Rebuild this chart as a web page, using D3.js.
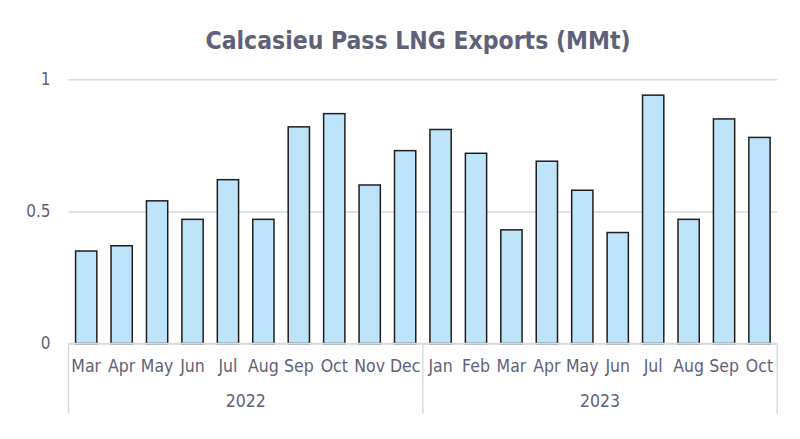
<!DOCTYPE html>
<html>
<head>
<meta charset="utf-8">
<script src="https://cdn.jsdelivr.net/npm/d3@7"></script>
<style>
  body { margin: 0; background: #fff; }
  svg text { font-family: "DejaVu Sans Condensed", "DejaVu Sans", sans-serif; }
</style>
</head>
<body>
<svg id="chart" width="800" height="439"></svg>
<script>
// data
const months = ["Mar","Apr","May","Jun","Jul","Aug","Sep","Oct","Nov","Dec",
                "Jan","Feb","Mar","Apr","May","Jun","Jul","Aug","Sep","Oct"]
const years = ["2022","2022","2022","2022","2022","2022","2022","2022","2022","2022",
               "2023","2023","2023","2023","2023","2023","2023","2023","2023","2023"]
const exports = [0.35,0.37,0.54,0.47,0.62,0.47,0.82,0.87,0.60,0.73,
                 0.81,0.72,0.43,0.69,0.58,0.42,0.94,0.47,0.85,0.78]
const yTicks = [0, 0.5, 1]
const yearGroups = ["2022","2023"]

const svg = d3.select("#chart")
const margin = {top: 79.3, right: 22.8, bottom: 95.5, left: 68.5}
const width = 800 - margin.left - margin.right
const height = 439 - margin.top - margin.bottom
const textColor = "#5f6179"
const gridColor = "#d9d9de"

const keys = months.map((m, i) => i)
const x = d3.scaleBand().domain(keys).range([0, width])
    .paddingInner(0.4).paddingOuter(0.2)
const y = d3.scaleLinear().domain([0, 1]).range([height, 0])

const g = svg.append("g").attr("transform", `translate(${margin.left},${margin.top})`)

// title
svg.append("text")
    .attr("x", 418).attr("y", 49)
    .attr("text-anchor", "middle")
    .style("font-size", "24.5px").style("font-weight", "bold")
    .attr("fill", textColor)
    .text("Calcasieu Pass LNG Exports (MMt)")

// gridlines + y labels
const yAxis = d3.axisLeft(y).tickValues(yTicks).tickSize(-width).tickPadding(18)
    .tickFormat(d => d === 0 ? "0" : d3.format("")(d))
const ya = g.append("g").call(yAxis)
ya.select(".domain").remove()
ya.selectAll(".tick line").attr("stroke", gridColor).attr("stroke-width", 1.5)
ya.selectAll(".tick text").attr("fill", textColor).style("font-size", "17px")

// bars
g.selectAll("rect.bar")
  .data(exports)
  .join("rect")
    .attr("class", "bar")
    .attr("x", (d, i) => x(i))
    .attr("y", d => y(d))
    .attr("width", x.bandwidth())
    .attr("height", d => y(0) - y(d))
    .attr("fill", "#bde4fa")
    .attr("stroke", "#1e1e1e")
    .attr("stroke-width", 1.5)

// month labels
const xAxis = d3.axisBottom(x).tickSize(0).tickPadding(16).tickFormat(i => months[i])
const xa = g.append("g").attr("transform", `translate(0,${height})`).call(xAxis)
xa.select(".domain").remove()
xa.selectAll(".tick text").attr("fill", textColor).style("font-size", "17.5px")

// year groups: separators and labels
const step = x.step()
const groups = yearGroups.map(yr => {
  const idx = years.map((v, i) => v === yr ? i : -1).filter(i => i >= 0)
  return {year: yr, x0: idx[0] * step, x1: (idx[idx.length - 1] + 1) * step}
})
const edges = [0].concat(groups.map(d => d.x1))
g.selectAll("line.sep")
  .data(edges)
  .join("line")
    .attr("class", "sep")
    .attr("x1", d => d).attr("x2", d => d)
    .attr("y1", height).attr("y2", height + 70)
    .attr("stroke", gridColor).attr("stroke-width", 1.5)

g.selectAll("text.year")
  .data(groups)
  .join("text")
    .attr("class", "year")
    .attr("x", d => (d.x0 + d.x1) / 2)
    .attr("y", height + 64)
    .attr("text-anchor", "middle")
    .attr("fill", textColor)
    .style("font-size", "17.5px")
    .text(d => d.year)

// baseline
g.append("line")
    .attr("x1", 0).attr("x2", width)
    .attr("y1", height).attr("y2", height)
    .attr("stroke", gridColor).attr("stroke-width", 1.5)
</script>
</body>
</html>
